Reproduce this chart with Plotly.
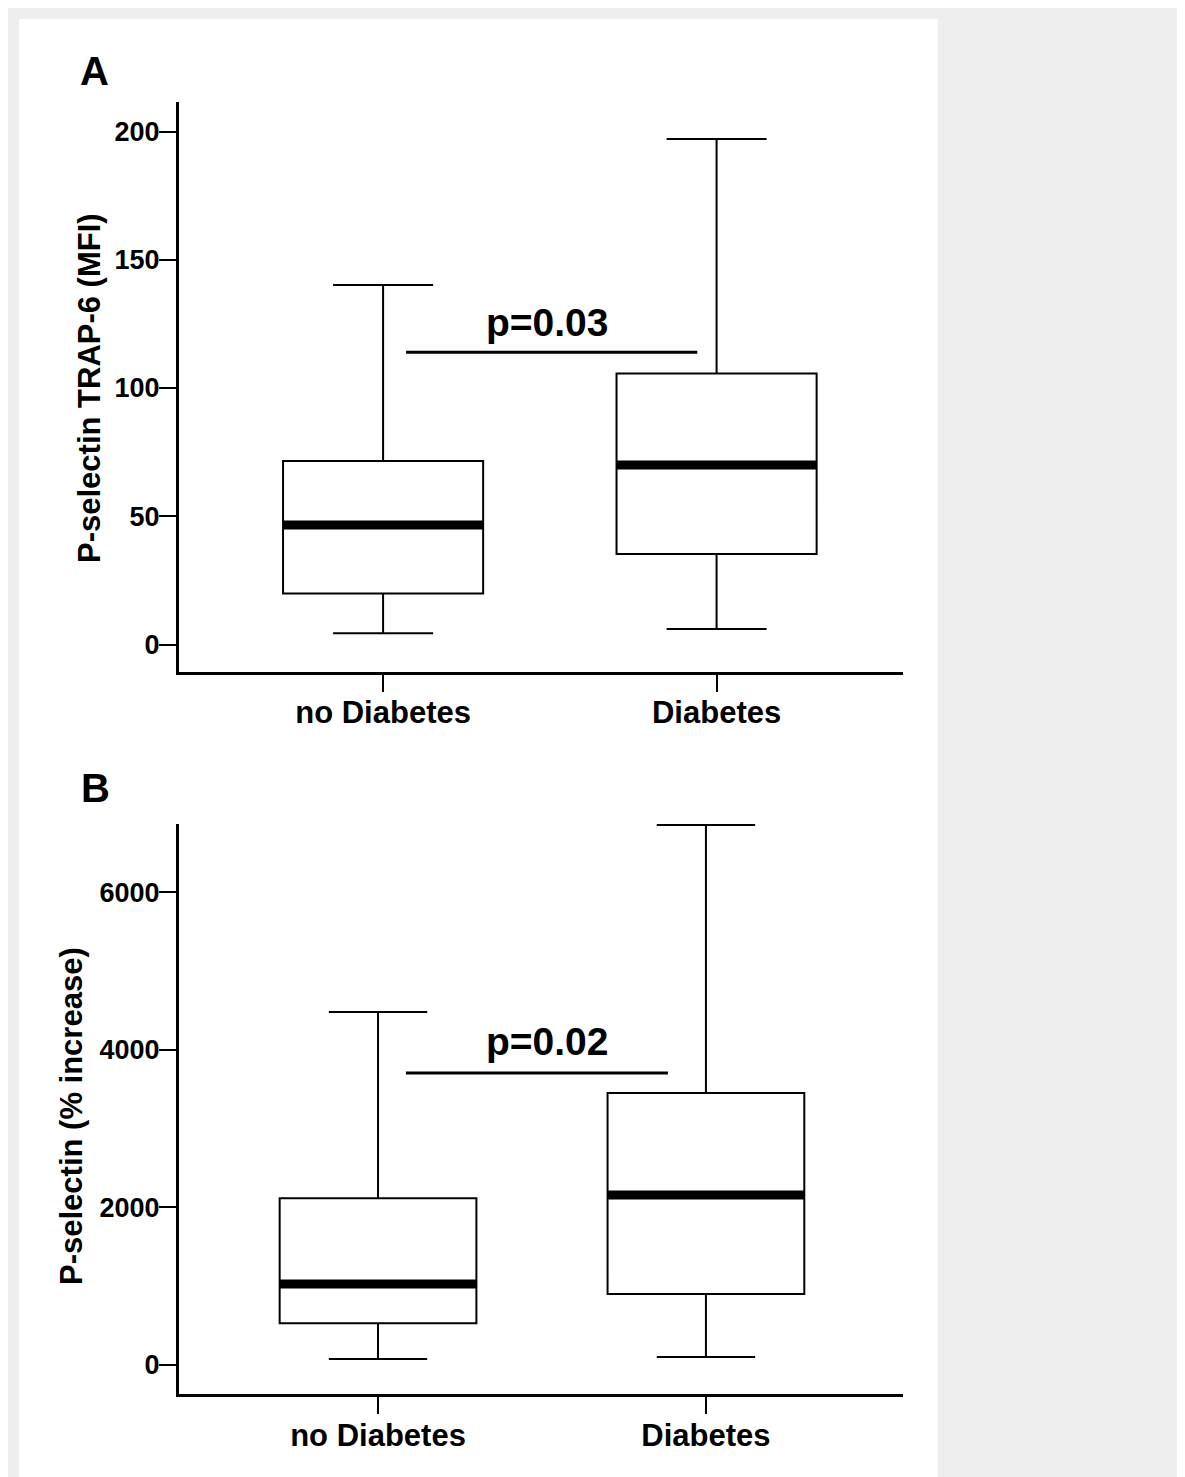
import plotly.graph_objects as go

# page body adds an 8px margin, so the figure is drawn 8px smaller and shifted
OFF = 8
W, H = 1185 - OFF, 1477 - OFF

# ---------------- data ----------------
categories = ["no Diabetes", "Diabetes"]
cat_pos = [0, 1]

# Panel A: P-selectin TRAP-6 (MFI)
a_q1 = [19.9, 35.3]
a_median = [46.6, 70.0]
a_q3 = [71.5, 105.7]
a_low = [4.4, 6.0]
a_high = [140.2, 197.1]
a_ticks = [0, 50, 100, 150, 200]
a_bracket_x = [0.069, 0.942]
a_bracket_y = 113.9
a_pvalue = "p=0.03"

# Panel B: P-selectin (% increase)
b_q1 = [529, 901]
b_median = [1028, 2157]
b_q3 = [2115, 3452]
b_low = [76, 101]
b_high = [4480, 6853]
b_ticks = [0, 2000, 4000, 6000]
b_bracket_x = [0.085, 0.884]
b_bracket_y = 3706
b_pvalue = "p=0.02"

BOX_W = 0.6
FONT = "Liberation Sans, Arial, sans-serif"


def px_x(p):
    return (p - OFF) / W


def px_y(p):
    return 1 - (p - OFF) / H


fig = go.Figure()

panels = [
    dict(q1=a_q1, med=a_median, q3=a_q3, lo=a_low, hi=a_high, xa="x", ya="y",
         bx=a_bracket_x, by=a_bracket_y),
    dict(q1=b_q1, med=b_median, q3=b_q3, lo=b_low, hi=b_high, xa="x2", ya="y2",
         bx=b_bracket_x, by=b_bracket_y),
]

for p in panels:
    fig.add_trace(go.Box(
        x=cat_pos, q1=p["q1"], median=p["med"], q3=p["q3"],
        lowerfence=p["lo"], upperfence=p["hi"],
        width=BOX_W, whiskerwidth=0.5,
        line=dict(color="black", width=2), fillcolor="white",
        boxpoints=False, hoverinfo="skip", showlegend=False,
        xaxis=p["xa"], yaxis=p["ya"],
    ))
    # thick median bars
    for c, m in zip(cat_pos, p["med"]):
        fig.add_trace(go.Scatter(
            x=[c - BOX_W / 2, c + BOX_W / 2], y=[m, m], mode="lines",
            line=dict(color="black", width=9), hoverinfo="skip",
            showlegend=False, xaxis=p["xa"], yaxis=p["ya"],
        ))
    # significance bracket line
    fig.add_trace(go.Scatter(
        x=p["bx"], y=[p["by"], p["by"]], mode="lines",
        line=dict(color="black", width=3), hoverinfo="skip",
        showlegend=False, xaxis=p["xa"], yaxis=p["ya"],
    ))

x_dom = [px_x(179), px_x(903)]

axis_common = dict(
    showline=True, linecolor="black", linewidth=3,
    ticks="outside", tickcolor="black", tickwidth=2, ticklen=17,
    showgrid=False, zeroline=False, fixedrange=True,
)

tickfont = dict(family=FONT, size=27, color="black", weight="bold")
xtickfont = dict(family=FONT, size=31, color="black", weight="bold")

fig.update_layout(
    width=W, height=H,
    margin=dict(l=0, r=0, t=0, b=0),
    paper_bgcolor="white", plot_bgcolor="rgba(0,0,0,0)",
    xaxis=dict(domain=x_dom, range=[-0.612, 1.559], anchor="y",
               tickvals=cat_pos, ticktext=categories, tickfont=xtickfont,
               ticklabelstandoff=-6, **axis_common),
    yaxis=dict(domain=[px_y(672.2), px_y(102)], range=[-10.8, 211.5], anchor="x",
               tickvals=a_ticks, ticktext=[str(t) for t in a_ticks],
               tickfont=tickfont, ticklabelstandoff=-6, **axis_common),
    xaxis2=dict(domain=x_dom, range=[-0.607, 1.601], anchor="y2",
                tickvals=cat_pos, ticktext=categories, tickfont=xtickfont,
                ticklabelstandoff=-6, **axis_common),
    yaxis2=dict(domain=[px_y(1394.3), px_y(823.8)], range=[-372, 6868], anchor="x2",
                tickvals=b_ticks, ticktext=[str(t) for t in b_ticks],
                tickfont=tickfont, ticklabelstandoff=-6, **axis_common),
    shapes=[
        dict(type="rect", xref="paper", yref="paper", layer="below",
             x0=0, x1=px_x(1180), y0=0, y1=1,
             fillcolor="#eeeeee", line=dict(width=0)),
        dict(type="rect", xref="paper", yref="paper", layer="below",
             x0=px_x(19), x1=px_x(938), y0=0, y1=px_y(19),
             fillcolor="white", line=dict(width=0)),
    ],
)

annotations = [
    dict(text="<b>A</b>", x=px_x(94), y=px_y(71), font=dict(size=40)),
    dict(text="<b>B</b>", x=px_x(95), y=px_y(788), font=dict(size=40)),
    dict(text="<b>P-selectin TRAP-6 (MFI)</b>", x=px_x(90), y=px_y(388),
         textangle=-90, font=dict(size=31)),
    dict(text="<b>P-selectin (% increase)</b>", x=px_x(71), y=px_y(1116),
         textangle=-90, font=dict(size=31)),
]
for a in annotations:
    a.update(xref="paper", yref="paper", showarrow=False,
             xanchor="center", yanchor="middle")
    a["font"].update(family=FONT, color="black")
    fig.add_annotation(**a)

# p-value labels (data coordinates)
fig.add_annotation(text="<b>" + a_pvalue + "</b>", x=0.492, y=125.7, xref="x", yref="y",
                   showarrow=False, xanchor="center", yanchor="middle",
                   font=dict(family=FONT, size=39, color="black"))
fig.add_annotation(text="<b>" + b_pvalue + "</b>", x=0.518, y=4099, xref="x2", yref="y2",
                   showarrow=False, xanchor="center", yanchor="middle",
                   font=dict(family=FONT, size=39, color="black"))

fig.write_html("out.html")
